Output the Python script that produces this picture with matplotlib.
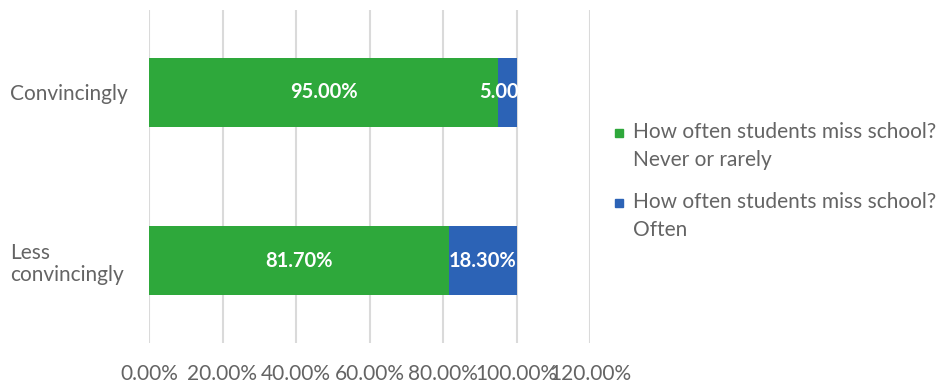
import matplotlib
matplotlib.use("Agg")
import matplotlib.pyplot as plt
from matplotlib.patches import Rectangle

categories = ["Convincingly", "Less\nconvincingly"]
never_rarely = [95.0, 81.7]
often = [5.0, 18.3]
series_names = ["How often students miss school?\nNever or rarely",
                "How often students miss school?\nOften"]
xticks = [0, 20, 40, 60, 80, 100, 120]
xtick_labels = ["0.00%", "20.00%", "40.00%", "60.00%", "80.00%", "100.00%", "120.00%"]

green = "#2EA83B"
blue = "#2C63B6"
grey_text = "#646464"

plt.rcParams['font.family'] = ['Lato', 'DejaVu Sans']

W, H = 945, 384
fig = plt.figure(figsize=(W / 100, H / 100), dpi=100)
ax = fig.add_axes([149/W, 1 - 343/H, 441/W, 333/H])

ypos = list(range(len(categories)))
h = 0.41
b1 = ax.barh(ypos, never_rarely, height=h, color=green, label=series_names[0], zorder=3)
b2 = ax.barh(ypos, often, left=never_rarely, height=h, color=blue, label=series_names[1], zorder=3)

clip = Rectangle((0, -1), 100, 3, transform=ax.transData)
for i in ypos:
    for left, val in [(0, never_rarely[i]), (never_rarely[i], often[i])]:
        t = ax.text(left + val / 2, i, f"{val:.2f}%", ha="center", va="center",
                    color="white", fontsize=14.5, fontweight="bold", zorder=5)
        t.set_clip_path(clip)

ax.set_xlim(0, 120)
ax.set_ylim(1.49, -0.49)
ax.set_xticks(xticks)
ax.set_xticklabels(xtick_labels)
ax.set_yticks(ypos)
ax.set_yticklabels(categories, ha="left", linespacing=1.15)
ax.tick_params(axis="y", length=0, pad=100, labelsize=15, labelcolor=grey_text)
ax.tick_params(axis="x", length=0, pad=15, labelsize=15, labelcolor=grey_text)
ax.xaxis.grid(True, color="#DADADA", linewidth=1.5, zorder=0)
ax.set_axisbelow(True)
for s in ax.spines.values():
    s.set_visible(False)

# legend drawn manually so the marker aligns with the first text line
legend_colors = [green, blue]
for k, (name, col) in enumerate(zip(series_names, legend_colors)):
    yc = 133 + k * 70
    fig.add_artist(Rectangle((615 / W, 1 - (yc + 4) / H), 8 / W, 8 / H,
                             transform=fig.transFigure, color=col))
    fig.text(633 / W, 1 - (yc - 11) / H, name, ha="left", va="top",
             fontsize=15, color=grey_text, linespacing=1.5)

fig.savefig("out.png", dpi=100)
